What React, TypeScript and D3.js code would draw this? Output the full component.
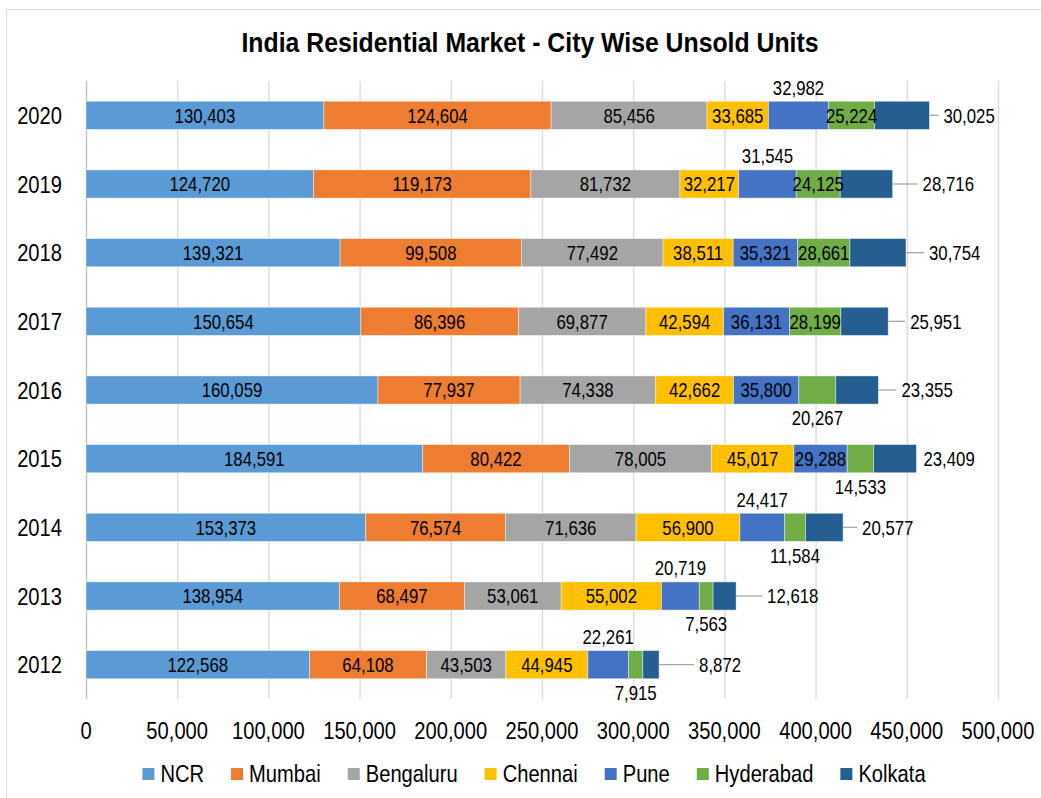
import { useEffect, useRef } from "react";
import * as d3 from "d3";

const years = ["2020", "2019", "2018", "2017", "2016", "2015", "2014", "2013", "2012"];
const cities = ["NCR", "Mumbai", "Bengaluru", "Chennai", "Pune", "Hyderabad", "Kolkata"];
const colors = ["#5B9BD5", "#ED7D31", "#A5A5A5", "#FFC000", "#4472C4", "#70AD47", "#255E91"];

// one row per year, same order as `years`
const ncr = [130403, 124720, 139321, 150654, 160059, 184591, 153373, 138954, 122568];
const mumbai = [124604, 119173, 99508, 86396, 77937, 80422, 76574, 68497, 64108];
const bengaluru = [85456, 81732, 77492, 69877, 74338, 78005, 71636, 53061, 43503];
const chennai = [33685, 32217, 38511, 42594, 42662, 45017, 56900, 55002, 44945];
const pune = [32982, 31545, 35321, 36131, 35800, 29288, 24417, 20719, 22261];
const hyderabad = [25224, 24125, 28661, 28199, 20267, 14533, 11584, 7563, 7915];
const kolkata = [30025, 28716, 30754, 25951, 23355, 23409, 20577, 12618, 8872];

const xTicks = [0, 50000, 100000, 150000, 200000, 250000, 300000, 350000, 400000, 450000, 500000];

// where Excel put the small labels
const puneAbove = ["2020", "2019", "2014", "2013", "2012"];
const hydBelow = ["2016", "2015", "2014", "2013", "2012"];
const kolkataGap = [14, 30, 23, 22, 23, 7, 19, 31, 40];

const FONT = "'Liberation Sans', Arial, sans-serif";
const SX = 0.84; // no narrow font installed, squeeze instead

// place a text at x,y squeezed horizontally
function at(x: number, y: number, sx = SX) {
  return `translate(${x},${y}) scale(${sx},1)`;
}

export default function App() {
  const svgRef = useRef<SVGSVGElement>(null);

  useEffect(() => {
    document.body.style.margin = "0";
    if (!svgRef.current) return;
    const svg = d3.select(svgRef.current);
    svg.selectAll("*").remove();

    const width = 1041;
    const height = 798;
    const fmt = d3.format(",");

    const series = [ncr, mumbai, bengaluru, chennai, pune, hyderabad, kolkata];
    const rows = years.map((yr, i) => {
      const r: any = { year: yr };
      cities.forEach((c, j) => (r[c] = series[j][i]));
      return r;
    });
    const stacked = d3.stack<any>().keys(cities)(rows);

    const x = d3.scaleLinear().domain([0, 500000]).range([86, 998]);
    const y = d3
      .scaleBand<string>()
      .domain(years)
      .range([81, 699])
      .paddingInner(0.59)
      .paddingOuter(0.295);

    svg
      .append("rect")
      .attr("x", 6.5)
      .attr("y", 9.5)
      .attr("width", width + 20)
      .attr("height", height + 20)
      .attr("fill", "#fff")
      .attr("stroke", "#d9d9d9");

    // title
    svg
      .append("text")
      .attr("transform", at(530, 52, 0.886))
      .attr("text-anchor", "middle")
      .style("font-family", FONT)
      .style("font-size", "28px")
      .style("font-weight", "bold")
      .text("India Residential Market - City Wise Unsold Units");

    // grid
    svg
      .append("g")
      .selectAll("line")
      .data(xTicks)
      .join("line")
      .attr("x1", (d) => x(d) + 0.5)
      .attr("x2", (d) => x(d) + 0.5)
      .attr("y1", 81)
      .attr("y2", 699)
      .attr("stroke", (d) => (d === 0 ? "#bfbfbf" : "#d9d9d9"))
      .attr("stroke-width", 1.3);

    // tick labels
    svg
      .append("g")
      .selectAll("text")
      .data(xTicks)
      .join("text")
      .attr("transform", (d) => at(x(d), 739))
      .attr("text-anchor", "middle")
      .style("font-family", FONT)
      .style("font-size", "24px")
      .attr("fill", "#000")
      .text((d) => fmt(d));

    svg
      .append("g")
      .selectAll("text")
      .data(years)
      .join("text")
      .attr("transform", (d) => at(62, y(d)! + y.bandwidth() / 2))
      .attr("dy", "0.36em")
      .attr("text-anchor", "end")
      .style("font-family", FONT)
      .style("font-size", "24px")
      .text((d) => d);

    // bars
    const layers = svg
      .append("g")
      .selectAll("g")
      .data(stacked)
      .join("g")
      .attr("fill", (_, i) => colors[i]);

    layers
      .selectAll("rect")
      .data((d) => d)
      .join("rect")
      .attr("x", (d) => x(d[0]))
      .attr("y", (d) => y(d.data.year)!)
      .attr("width", (d) => x(d[1]) - x(d[0]))
      .attr("height", y.bandwidth())
      .attr("stroke", "#ffffff")
      .attr("stroke-opacity", 0.5)
      .attr("stroke-width", 0.8);

    // data labels
    const labels = svg.append("g").style("font-family", FONT).style("font-size", "20px");
    stacked.forEach((layer, si) => {
      const city = cities[si];
      layer.forEach((d, i) => {
        const yr = d.data.year;
        const cy = y(yr)! + y.bandwidth() / 2;
        const cx = (x(d[0]) + x(d[1])) / 2;
        const val = fmt(d[1] - d[0]);
        if (city === "Kolkata") {
          const x0 = x(d[1]);
          const lx = x0 + kolkataGap[i];
          if (kolkataGap[i] > 10) {
            labels
              .append("line")
              .attr("x1", x0)
              .attr("x2", lx - 5)
              .attr("y1", cy)
              .attr("y2", cy)
              .attr("stroke", "#a6a6a6")
              .attr("stroke-width", 1.3);
          }
          labels.append("text").attr("transform", at(lx, cy)).attr("dy", "0.36em").text(val);
          return;
        }
        let ty = cy;
        if (city === "Pune" && puneAbove.includes(yr)) ty = cy - 28;
        if (city === "Hyderabad" && hydBelow.includes(yr)) ty = cy + 28;
        labels
          .append("text")
          .attr("transform", at(cx, ty))
          .attr("dy", "0.36em")
          .attr("text-anchor", "middle")
          .text(val);
      });
    });

    // legend
    const legend = svg.append("g").style("font-family", FONT).style("font-size", "24px");
    const gap = 27;
    let lx = 0;
    const items = legend.selectAll("g").data(cities).join("g");
    items
      .append("rect")
      .attr("y", 768)
      .attr("width", 12)
      .attr("height", 12)
      .attr("fill", (_, i) => colors[i]);
    items
      .append("text")
      .attr("transform", at(18, 782))
      .text((d) => d);
    items.each(function () {
      const g = d3.select(this);
      const w = (g.select("text").node() as SVGTextElement).getComputedTextLength() * SX;
      g.attr("transform", `translate(${lx},0)`);
      lx += 18 + w + gap;
    });
    const total = lx - gap;
    legend.attr("transform", `translate(${534 - total / 2},0)`);
  }, []);

  return <svg ref={svgRef} width={1041} height={798} style={{ display: "block" }} />;
}
